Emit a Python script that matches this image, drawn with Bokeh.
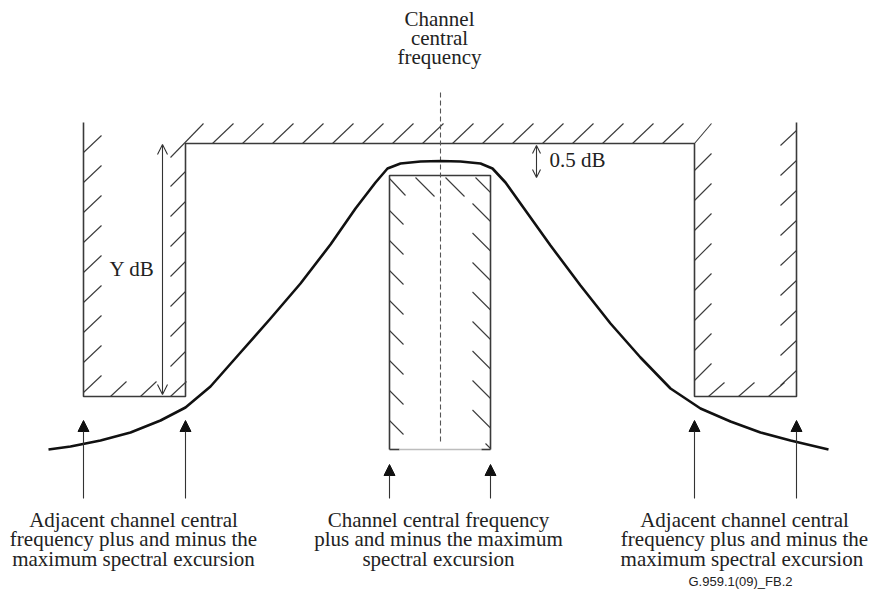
from bokeh.plotting import figure
from bokeh.models import Range1d, Arrow, NormalHead, OpenHead
from bokeh.core.properties import value
from bokeh.embed import file_html
from bokeh.resources import INLINE

# ---- data (diagram coordinates: x = frequency position, y = level, downward) ----
# spectral mask edges
adj_left_outer, adj_left_inner = 83, 185
adj_right_inner, adj_right_outer = 694, 796
mask_top_level = 143
mask_notch_level = 396
mask_open_end = 122
# centre box (channel central frequency +/- max spectral excursion)
box_left, box_right = 389, 490
box_top, box_bottom = 175, 449
centre_freq = 440
# signal spectrum
curve_x = [48, 70, 100, 130, 160, 185, 210, 240, 270, 300, 330, 355, 375, 387, 400,
           420, 440, 460, 480, 492, 505, 525, 550, 580, 610, 640, 670, 700, 730, 760, 790, 828]
curve_y = [449, 446, 440, 432, 420, 407, 386, 352, 318, 283, 244, 208, 182, 168, 163,
           161, 160.5, 161, 163, 168, 182, 210, 245, 285, 323, 357, 388, 408, 421, 432, 440, 449]

labels_bottom = [
    ["Adjacent channel central", "frequency plus and minus the", "maximum spectral excursion"],
    ["Channel central frequency", "plus and minus the maximum", "spectral excursion"],
    ["Adjacent channel central", "frequency plus and minus the", "maximum  spectral excursion"],
]
label_top = ["Channel", "central", "frequency"]

W, H = 869, 590
p = figure(width=W, height=H, output_backend="svg", toolbar_location=None,
           x_range=Range1d(0, W), y_range=Range1d(H, 0),
           min_border=0)
p.axis.visible = False
p.grid.visible = False
p.outline_line_color = None

MC = "#3a3a3a"
HW = 1.1

# mask outline
mx = [adj_left_outer, adj_left_outer, adj_left_inner, adj_left_inner,
      adj_right_inner, adj_right_inner, adj_right_outer, adj_right_outer]
my = [mask_open_end, mask_notch_level, mask_notch_level, mask_top_level,
      mask_top_level, mask_notch_level, mask_notch_level, mask_open_end]
p.line(mx, my, line_color=MC, line_width=1.6)

# hatches
hx0, hy0, hx1, hy1 = [], [], [], []
def seg(a, b, c, d):
    hx0.append(a); hy0.append(b); hx1.append(c); hy1.append(d)

for k in range(9):
    y = 152 + 30 * k
    seg(adj_left_outer, y, adj_left_outer + 18, y - 17)
for k in range(7):
    y = 186 + 30 * k
    seg(adj_left_inner - 15, y, adj_left_inner, y - 15)
for k in range(3):
    x = 110 + 30 * k
    seg(x, mask_notch_level, x + 16, mask_notch_level - 15)
seg(adj_left_inner - 15, 157, adj_left_inner + 18, 123)
for k in range(16):
    x = 212 + 30 * k
    seg(x, mask_top_level, x + 21, mask_top_level - 20)
seg(adj_right_inner, mask_top_level, adj_right_inner + 17, 123)
for k in range(8):
    y = 170 + 30 * k
    seg(adj_right_inner, y, adj_right_inner + 17, y - 17)
for k in range(3):
    x = 708 + 30 * k
    seg(x, mask_notch_level, x + 16, mask_notch_level - 14)
for k in range(9):
    y = 145 + 30 * k
    seg(adj_right_outer - 16, y, adj_right_outer, y - 15)
p.segment(hx0, hy0, hx1, hy1, line_color=MC, line_width=HW)

# centre box
p.line([box_left, box_left, box_right, box_right], [box_bottom, box_top, box_top, box_bottom],
       line_color=MC, line_width=1.6)
p.segment([box_left, box_left + 10, box_right - 9], [box_bottom] * 3,
          [box_left + 10, box_right - 9, box_right], [box_bottom] * 3,
          line_color=[MC, "#bdbdbd", MC], line_width=1.6)
cx0, cy0, cx1, cy1 = [], [], [], []
for k in range(8):
    y = 210 + 30 * k
    cx0.append(box_left); cy0.append(y); cx1.append(box_left + 14); cy1.append(y + 14)
cx0.append(box_left); cy0.append(178); cx1.append(box_left + 16); cy1.append(195)
for x in (415, 445, 475):
    d = min(19, box_right - x)
    cx0.append(x); cy0.append(box_top + 2); cx1.append(x + d); cy1.append(box_top + 2 + d)
for k in range(8):
    y = 203 + 29.5 * k
    cx0.append(box_right - 18); cy0.append(y); cx1.append(box_right); cy1.append(y + 18)
cx0.append(box_right - 5); cy0.append(443); cx1.append(box_right); cy1.append(448)
p.segment(cx0, cy0, cx1, cy1, line_color=MC, line_width=HW)

# centre dashed line
p.line([centre_freq, centre_freq], [92, 442], line_color="#555555", line_width=1.1,
       line_dash="5 3")

# spectrum curve
p.line(curve_x, curve_y, line_color="#111111", line_width=2.6, line_join="round")

# frequency arrows
for x, tip in [(adj_left_outer, 420), (adj_left_inner, 420), (box_left, 464),
               (box_right, 464), (adj_right_inner, 420), (adj_right_outer, 420)]:
    p.add_layout(Arrow(end=NormalHead(size=11, fill_color="#111111", line_color="#111111", line_width=1),
                       x_start=x, y_start=498, x_end=x, y_end=tip,
                       line_color="#333333", line_width=1.1))

# Y dB arrow
p.add_layout(Arrow(start=OpenHead(size=10, line_color="#333333", line_width=1.1),
                   end=OpenHead(size=10, line_color="#333333", line_width=1.1),
                   x_start=162, y_start=144, x_end=162, y_end=394,
                   line_color="#333333", line_width=1.1))
# 0.5 dB arrow
p.add_layout(Arrow(start=OpenHead(size=8, line_color="#333333", line_width=1.1),
                   end=OpenHead(size=8, line_color="#333333", line_width=1.1),
                   x_start=536, y_start=145, x_end=536, y_end=177,
                   line_color="#333333", line_width=1.1))

SERIF = value("Liberation Serif")
FS = "21px"
TC = "#222222"
p.text([109], [268], text=["Y dB"], text_font=SERIF, text_font_size=FS,
       text_baseline="middle", text_align="left", text_color=TC)
p.text([549], [159], text=["0.5 dB"], text_font=SERIF, text_font_size=FS,
       text_baseline="middle", text_align="left", text_color=TC)

for i, s in enumerate(label_top):
    p.text([439], [18 + 19 * i], text=[s], text_font=SERIF, text_font_size=FS,
           text_baseline="middle", text_align="center", text_color=TC)

for cx, lines in zip([133, 438, 744], labels_bottom):
    for i, s in enumerate(lines):
        p.text([cx], [519 + 19.5 * i], text=[s], text_font=SERIF, text_font_size=FS,
               text_baseline="middle", text_align="center", text_color=TC)

p.text([740], [581], text=["G.959.1(09)_FB.2"], text_font=value("Liberation Sans"),
       text_font_size="13px", text_baseline="middle", text_align="center", text_color=TC)

open("out.html", "w").write(file_html(p, INLINE))
